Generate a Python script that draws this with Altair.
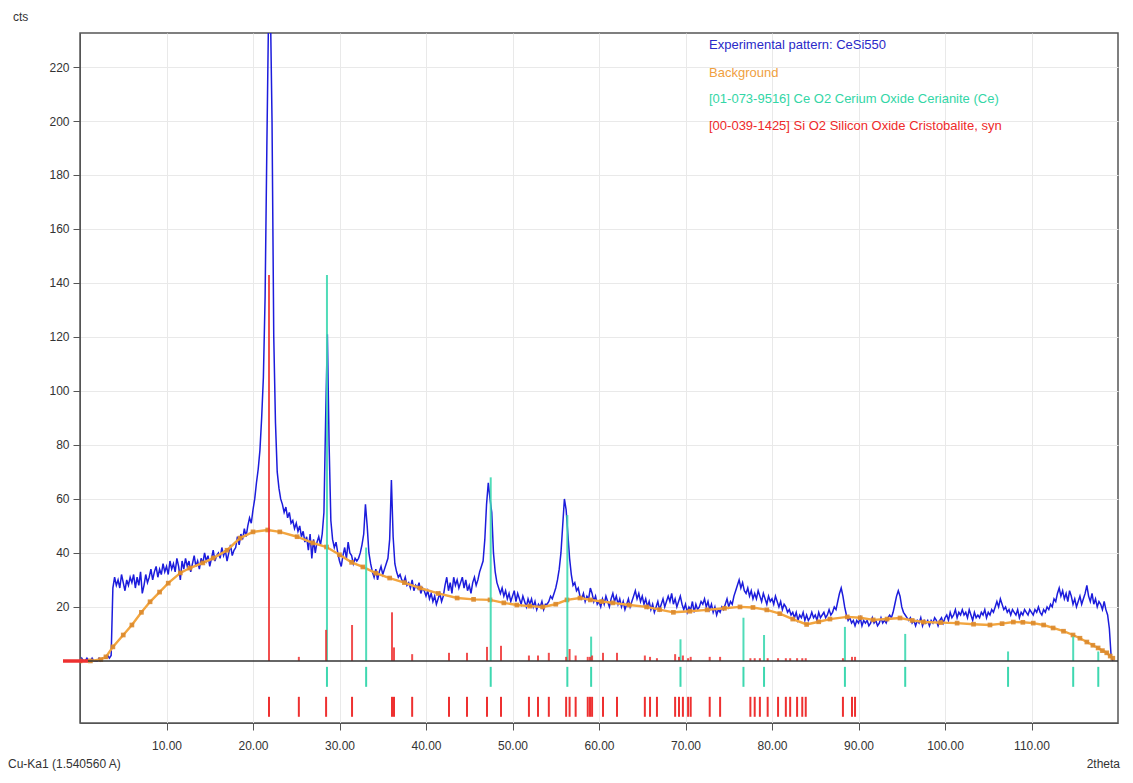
import altair as alt
import pandas as pd

# ---------------- data ----------------
scan_start = 0.0
scan_step = 0.2
exp_counts = [
    0, 1, 0, 0, 1, 0, 0, 1, 0, 0,
    0, 1, 0, 1, 1, 1, 2, 1, 2, 27,
    31, 28, 30, 27, 32, 29, 26, 30, 28, 31,
    29, 32, 27, 31, 28, 33, 25, 28, 32, 29,
    31, 34, 30, 33, 35, 31, 34, 32, 36, 33,
    35, 32, 37, 34, 36, 33, 38, 35, 30, 37,
    34, 38, 35, 37, 33, 36, 39, 35, 37, 34,
    38, 36, 40, 37, 39, 35, 38, 41, 37, 39,
    40, 38, 42, 39, 41, 37, 40, 43, 39, 41,
    42, 46, 43, 47, 45, 49, 46, 50, 53, 51,
    56, 60, 66, 71, 78, 90, 105, 135, 190, 240,
    245, 200, 120, 88, 70, 64, 60, 58, 55, 57,
    53, 55, 51, 52, 49, 51, 48, 50, 46, 48,
    44, 46, 41, 47, 38, 45, 40, 44, 46, 43,
    47, 55, 90, 121, 80, 52, 45, 42, 44, 40,
    37, 35, 39, 42, 38, 44, 40, 39, 36, 38,
    37, 38, 40, 43, 47, 58, 50, 40, 36, 33,
    31, 34, 30, 33, 35, 32, 34, 36, 38, 45,
    67, 46, 36, 33, 31, 32, 30, 29, 31, 28,
    29, 27, 30, 26, 28, 27, 29, 25, 27, 26,
    24, 26, 23, 25, 22, 24, 21, 23, 25, 22,
    24, 28, 31, 26, 29, 25, 31, 28, 30, 27,
    29, 31, 27, 30, 26, 28, 25, 29, 31, 28,
    30, 33, 35, 37, 45, 58, 66, 60, 55, 40,
    33, 29, 27, 25, 27, 24, 26, 23, 25, 22,
    24, 26, 22, 25, 23, 21, 24, 22, 20, 23,
    21, 23, 20, 22, 19, 21, 20, 22, 19, 21,
    21, 22, 24, 23, 25, 27, 30, 34, 40, 50,
    60, 56, 47, 38, 32, 28, 29, 26, 27, 24,
    23, 25, 22, 24, 23, 27, 25, 22, 24, 21,
    22, 20, 23, 21, 24, 22, 20, 23, 25, 22,
    24, 21, 23, 20, 22, 19, 21, 23, 20, 22,
    24, 26, 23, 25, 22, 24, 21, 23, 20, 22,
    19, 21, 18, 20, 22, 19, 21, 23, 20, 22,
    24, 22, 25, 21, 23, 20, 22, 24, 21, 19,
    21, 18, 20, 19, 22, 18, 21, 19, 20, 22,
    21, 23, 20, 22, 19, 21, 18, 20, 17, 19,
    18, 20, 19, 21, 23, 20, 22, 21, 24, 26,
    28, 30, 27, 29, 26, 25, 27, 24, 26, 23,
    25, 23, 26, 24, 22, 25, 23, 21, 24, 22,
    23, 21, 24, 22, 20, 22, 19, 21, 20, 18,
    19, 17, 18, 16, 18, 15, 17, 16, 18, 15,
    17, 15, 16, 18, 16, 17, 15, 18, 16, 17,
    18, 16, 17, 19, 17, 18, 20, 19, 22, 25,
    27, 24, 20, 17, 15, 16, 14, 15, 13, 15,
    14, 16, 13, 15, 14, 15, 13, 14, 16, 14,
    15, 13, 14, 16, 14, 15, 14, 16, 17, 16,
    18, 21, 24, 26, 24, 20, 18, 17, 16, 15,
    16, 14, 15, 13, 15, 14, 16, 13, 15, 14,
    15, 13, 15, 14, 16, 15, 13, 15, 16, 14,
    16, 17, 15, 18, 16, 17, 19, 16, 18, 17,
    19, 17, 18, 16, 19, 17, 15, 18, 16, 17,
    16, 18, 17, 19, 16, 18, 17, 19, 18, 20,
    22, 20, 23, 21, 19, 20, 18, 19, 17, 19,
    18, 17, 19, 16, 18, 17, 19, 18, 17, 19,
    18, 17, 19, 18, 20, 18, 17, 19, 18, 20,
    19, 21, 20, 23, 22, 25, 27, 24, 26, 23,
    25, 22, 26, 24, 21, 23, 20, 22, 24, 21,
    23, 25, 28, 24, 22, 25, 21, 23, 20, 22,
    21, 19, 22, 19, 17, 12, 2, 0,
]
exp_2theta = [round(scan_start + i * scan_step, 1) for i in range(len(exp_counts))]

bg_2theta = [0, 1.2, 2.4, 3.0, 3.8, 5.0, 6.0, 7.1, 8.1, 9.2, 10.2, 11.6, 12.7, 14.2,
             15.4, 17.0, 18.5, 20.0, 21.7, 23.1, 25.1, 26.9, 28.5, 30.0, 31.4, 32.7,
             34.2, 35.8, 37.5, 39.3, 41.4, 43.6, 45.5, 47.4, 49.0, 50.5, 52.0, 53.5,
             55.0, 56.3, 57.8, 59.0, 60.3, 61.6, 63.5, 65.5, 67.0, 68.6, 70.5, 72.5,
             74.5, 76.3, 77.8, 79.4, 80.9, 82.4, 84.0, 85.4, 86.7, 88.7, 90.2, 91.7,
             93.3, 94.8, 96.2, 97.5, 99.5, 101.4, 103.3, 105.2, 106.6, 107.9, 109.0,
             110.2, 111.4, 112.5, 113.7, 114.8, 115.6, 116.4, 117.1, 117.7, 118.2,
             118.7, 119.1, 119.4]
bg_counts = [0, 0, 0.5, 1.5, 5.2, 9.6, 13.3, 18, 21.9, 25.5, 28.8, 32.6, 34.4, 36.3,
             38.1, 41, 45.5, 47.8, 48.5, 47.8, 46, 43.7, 42.2, 39.3, 36.5, 34.8,
             32.5, 30.7, 29, 27, 25, 23.3, 22.8, 22.6, 21.5, 20.7, 20.3, 20,
             21, 22.6, 23.3, 22.6, 22, 21.5, 20.7, 20, 19, 18, 18.4, 18.9,
             19.5, 20, 19.8, 18.9, 17.5, 15.5, 13.5, 14.5, 15.5, 16.3, 16, 15.2,
             15.5, 15.9, 15, 14.4, 14.2, 14, 13.6, 13.3, 13.8, 14.4, 14.3,
             14, 13.3, 12.2, 11, 9.6, 8.4, 7, 5.8, 4.8, 3.8,
             3, 1.8, 1.0]

ceo2_2theta = [28.55, 33.08, 47.48, 56.34, 59.09, 69.42, 76.70, 79.08, 88.43, 95.40,
               107.29, 114.82, 117.72]
ceo2_height = [143, 42, 68, 54, 9, 8, 16, 9.6, 12.6, 10, 3.5, 9, 3.5]

sio2_2theta = [21.85, 25.3, 28.45, 31.45, 36.07, 36.3, 38.4, 42.66, 44.74, 47.05, 48.67,
               51.9, 52.95, 54.2, 56.2, 56.6, 57.3, 58.7, 58.96, 59.2, 60.46, 62.08,
               65.3, 65.9, 66.7, 68.8, 69.25, 69.7, 70.3, 70.6, 72.8, 74.0, 77.5, 78.0,
               78.6, 79.5, 80.7, 81.6, 82.1, 82.9, 83.5, 83.9, 88.2, 89.25, 89.6]
sio2_height = [143, 1.5, 11.5, 13.3, 18, 5, 2.5, 3, 3, 5.2, 5.6,
               2, 2, 3, 1.5, 4.4, 2, 1.5, 1.5, 2, 3, 3,
               2, 1.5, 1, 2.5, 1.5, 2, 1, 1.5, 1.5, 1.5, 1, 1,
               1, 1, 1, 1, 1, 1, 1, 1, 1, 1.5, 1.5]

legend_labels = ["Experimental pattern: CeSi550", "Background",
                 "[01-073-9516] Ce O2 Cerium Oxide Cerianite (Ce)",
                 "[00-039-1425] Si O2 Silicon Oxide Cristobalite, syn"]
legend_colors = ["#2a2ac8", "#f0a040", "#33d6a6", "#ee2a2a"]

x_ticks = [10, 20, 30, 40, 50, 60, 70, 80, 90, 100, 110]
y_ticks = [20, 40, 60, 80, 100, 120, 140, 160, 180, 200, 220]

# ---------------- chart ----------------
FONT = "Liberation Sans"
BLUE = "#1c1cdc"
ORANGE = "#f2a53f"
ORANGE_DOT = "#dc8a2c"
CYAN = "#3dd8b0"
RED = "#ee3030"

W, H = 1038, 690
xscale = alt.Scale(domain=[0, 120], nice=False, zero=False)
yscale = alt.Scale(domain=[-23, 232.6], nice=False, zero=False)
xaxis = alt.Axis(values=x_ticks, format=".2f", title=None, grid=True,
                 gridColor="#e9e9e9", tickColor="#555", tickSize=7,
                 domainColor="#555", labelColor="#333", labelFontSize=12,
                 labelFont=FONT, labelPadding=10)
yaxis = alt.Axis(values=y_ticks, title=None, grid=True, gridColor="#e9e9e9",
                 tickColor="#555", tickSize=7, domainColor="#555",
                 labelColor="#333", labelFontSize=12, labelFont=FONT,
                 labelPadding=4)


def X(field="t"):
    return alt.X(f"{field}:Q", scale=xscale, axis=xaxis)


def Y(field="c"):
    return alt.Y(f"{field}:Q", scale=yscale, axis=yaxis)


exp_df = pd.DataFrame({"t": exp_2theta, "c": exp_counts})
bg_df = pd.DataFrame({"t": bg_2theta, "c": bg_counts})
ce_df = pd.DataFrame({"t": ceo2_2theta, "c": ceo2_height})
si_df = pd.DataFrame({"t": sio2_2theta, "c": sio2_height})

exp_line = alt.Chart(exp_df).mark_line(color=BLUE, strokeWidth=1.5, clip=True).encode(
    x=X(), y=Y())

bg_line = alt.Chart(bg_df).mark_line(color=ORANGE, strokeWidth=2.4, clip=True).encode(
    x=X(), y=Y())
bg_pts = alt.Chart(bg_df).mark_square(color=ORANGE_DOT, size=22, opacity=0.9,
                                      clip=True).encode(x=X(), y=Y())

ce_top = alt.Chart(ce_df).mark_rule(color=CYAN, strokeWidth=2, opacity=0.9).encode(
    x=X(), y=alt.Y("zero:Q", scale=yscale, axis=yaxis), y2="c:Q"
).transform_calculate(zero="0")
si_top = alt.Chart(si_df).mark_rule(color=RED, strokeWidth=2, opacity=0.85).encode(
    x=X(), y=alt.Y("zero:Q", scale=yscale, axis=yaxis), y2="c:Q"
).transform_calculate(zero="0")

ce_low = alt.Chart(ce_df).mark_rule(color=CYAN, strokeWidth=2).encode(
    x=X(), y=alt.datum(-2.2), y2=alt.datum(-9.6))
si_low = alt.Chart(si_df).mark_rule(color=RED, strokeWidth=2).encode(
    x=X(), y=alt.datum(-13.3), y2=alt.datum(-20.7))

baseline = alt.Chart(pd.DataFrame({"b": [0]})).mark_rule(
    color="#333", strokeWidth=1.5).encode(y=alt.datum(0))

stub = alt.Chart(pd.DataFrame({"b": [0]})).mark_rule(
    color=RED, strokeWidth=3.5, clip=False).encode(
    x=alt.value(-17), x2=alt.value(8), y=alt.value(628))

texts = []
legend_y = [12, 40, 66, 93]
for lab, col, yy in zip(legend_labels, legend_colors, legend_y):
    texts.append(alt.Chart(pd.DataFrame({"l": [lab]})).mark_text(
        align="left", baseline="middle", font=FONT, fontSize=13, color=col
    ).encode(x=alt.value(629), y=alt.value(yy), text="l:N"))

outer = [("cts", -67, -16, "left"),
         ("Cu-Ka1 (1.540560 A)", -72, 731, "left"),
         ("2theta", 1040, 731, "right")]
for lab, xx, yy, al in outer:
    texts.append(alt.Chart(pd.DataFrame({"l": [lab]})).mark_text(
        align=al, baseline="middle", font=FONT, fontSize=12, color="#333"
    ).encode(x=alt.value(xx), y=alt.value(yy), text="l:N"))

chart = alt.layer(
    exp_line, bg_line, bg_pts, ce_top, si_top, ce_low, si_low, baseline, stub, *texts
).properties(
    width=W, height=H,
    autosize=alt.AutoSizeParams(type="none"),
    padding={"left": 72, "top": 25, "right": 5, "bottom": 50},
    background="white",
).configure_view(stroke="#555", strokeWidth=1.5)

chart.save("out.html", embed_options={"renderer": "svg", "actions": False})
